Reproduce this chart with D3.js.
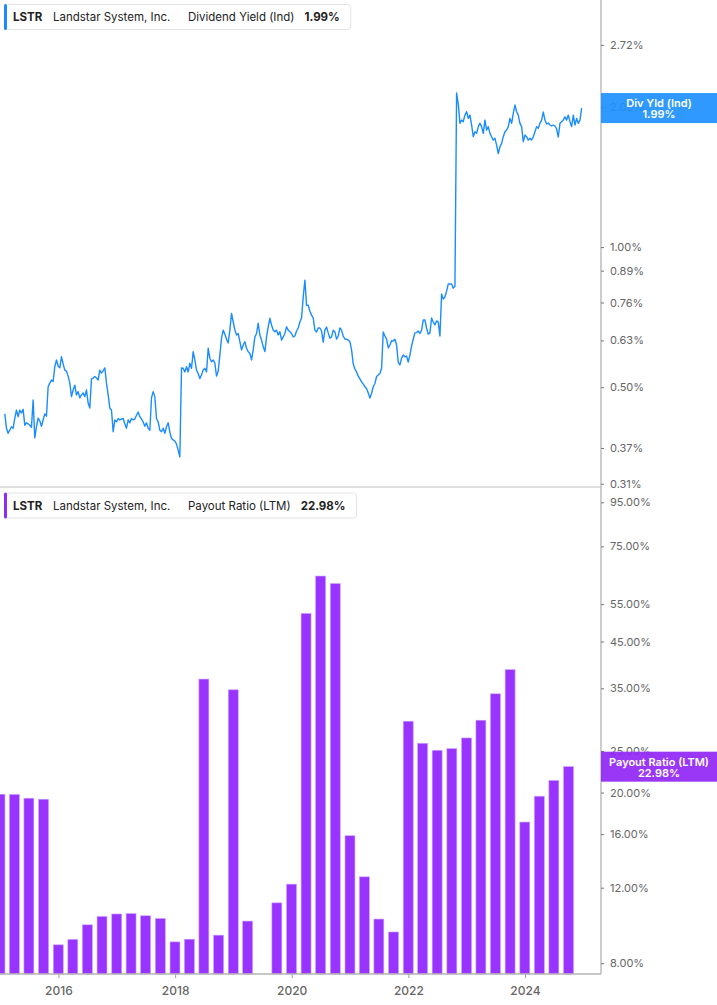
<!DOCTYPE html>
<html>
<head>
<meta charset="utf-8">
<script src="https://cdn.jsdelivr.net/npm/d3@7"></script>
<style>
body { margin: 0; background: #fff; }
text { font-family: Inter, "Noto Sans", sans-serif; }
</style>
</head>
<body>
<svg id="chart" width="717" height="1005"></svg>
<script>
var ticker = "LSTR";
var company = "Landstar System, Inc.";
var yieldName = "Dividend Yield (Ind)";
var yieldShort = "Div Yld (Ind)";
var yieldLast = 1.99;
var payoutName = "Payout Ratio (LTM)";
var payoutLast = 22.98;

// dividend yield (%), evenly spaced readings between these two dates
var yieldStart = "2015-01-30";
var yieldEnd = "2024-12-21";
var yieldValues = [
  0.438,0.408,0.398,0.404,0.411,0.408,0.429,0.446,0.432,0.446,
  0.440,0.448,0.414,0.419,0.417,0.414,0.410,0.469,0.389,0.411,
  0.429,0.423,0.412,0.425,0.438,0.433,0.501,0.510,0.518,0.514,
  0.553,0.572,0.555,0.550,0.581,0.561,0.544,0.541,0.528,0.510,
  0.477,0.493,0.505,0.481,0.489,0.474,0.481,0.486,0.477,0.493,
  0.462,0.451,0.521,0.523,0.527,0.523,0.518,0.544,0.536,0.542,
  0.550,0.510,0.481,0.451,0.446,0.401,0.425,0.421,0.428,0.425,
  0.427,0.428,0.417,0.408,0.425,0.419,0.428,0.425,0.427,0.435,
  0.442,0.432,0.427,0.421,0.412,0.419,0.408,0.404,0.474,0.489,
  0.477,0.428,0.421,0.404,0.401,0.408,0.398,0.411,0.419,0.400,
  0.388,0.385,0.383,0.377,0.366,0.354,
  0.550,0.549,0.539,0.553,0.539,0.563,0.549,0.596,0.572,0.544,
  0.535,0.522,0.531,0.544,0.549,0.539,0.606,0.577,0.567,0.572,
  0.563,0.528,0.541,0.586,0.637,0.663,0.650,0.634,0.622,0.663,
  0.720,0.691,0.663,0.647,0.652,0.626,0.601,0.616,0.626,0.606,
  0.596,0.591,0.572,0.601,0.641,0.652,0.686,0.647,0.631,0.611,
  0.596,0.641,0.674,0.703,0.680,0.663,0.658,0.663,0.647,0.658,
  0.631,0.641,0.652,0.674,0.663,0.658,0.652,0.641,0.644,0.660,
  0.670,0.690,0.704,0.781,0.849,0.750,0.750,0.728,0.714,0.704,
  0.663,0.657,0.670,0.670,0.660,0.625,0.663,0.673,0.654,0.637,
  0.641,0.663,0.657,0.634,0.644,0.670,0.663,0.644,0.634,0.634,
  0.631,0.626,0.601,0.561,0.547,0.539,0.528,0.521,0.513,0.508,
  0.501,0.496,0.486,0.474,0.485,0.501,0.509,0.527,0.531,0.535,
  0.549,0.657,0.644,0.634,0.607,0.616,0.629,0.628,0.634,0.616,
  0.566,0.558,0.577,0.586,0.581,0.583,0.566,0.586,0.613,0.634,
  0.654,0.655,0.660,0.652,0.663,0.697,0.697,0.670,0.650,0.654,
  0.704,0.690,0.680,0.694,0.690,0.644,0.793,0.773,0.781,0.804,
  0.833,0.833,0.833,0.816,0.824,
  2.144,2.030,1.845,1.875,1.860,1.922,1.954,1.891,1.922,1.830,
  1.727,1.770,1.756,1.815,1.845,1.815,1.756,1.875,1.785,1.815,
  1.756,1.727,1.698,1.713,1.657,1.589,1.643,1.671,1.727,1.770,
  1.785,1.815,1.891,1.845,1.938,2.020,1.954,1.922,1.845,1.815,
  1.684,1.741,1.727,1.698,1.713,1.698,1.727,1.770,1.815,1.800,
  1.845,1.875,1.951,1.875,1.839,1.848,1.830,1.821,1.830,1.821,
  1.794,1.724,1.845,1.860,1.875,1.906,1.875,1.922,1.860,1.815,
  1.922,1.830,1.891,1.845,1.875,1.99
];

// payout ratio (%), one bar per fiscal quarter end
var quarterEnds = [
  "2014-12-31","2015-03-31","2015-06-30","2015-09-30","2015-12-31",
  "2016-03-31","2016-06-30","2016-09-30","2016-12-31","2017-03-31",
  "2017-06-30","2017-09-30","2017-12-31","2018-03-31","2018-06-30",
  "2018-09-30","2018-12-31","2019-03-31","2019-06-30","2019-09-30",
  "2019-12-31","2020-03-31","2020-06-30","2020-09-30","2020-12-31",
  "2021-03-31","2021-06-30","2021-09-30","2021-12-31","2022-03-31",
  "2022-06-30","2022-09-30","2022-12-31","2023-03-31","2023-06-30",
  "2023-09-30","2023-12-31","2024-03-31","2024-06-30","2024-09-30"
];
var payoutValues = [
  19.82,19.79,19.40,19.29,8.83,9.09,9.83,10.28,10.42,10.44,
  10.32,10.17,8.97,9.10,36.78,9.30,34.72,10.03,null,11.06,
  12.23,52.30,63.95,61.40,15.86,12.72,10.14,9.46,29.33,26.05,
  25.09,25.31,26.81,29.49,33.98,38.68,17.07,19.61,21.34,22.98
];

var yieldTicks = [0.31, 0.37, 0.50, 0.63, 0.76, 0.89, 1.00, 2.00, 2.72];
var payoutTicks = [8, 12, 16, 20, 25, 35, 45, 55, 75, 95];
var yearTicks = ["2016-01-01", "2018-01-01", "2020-01-01", "2022-01-01", "2024-01-01"];

var parse = d3.timeParse("%Y-%m-%d");
var blue = "#1a8cff", purple = "#9933ff";
var plotRight = 601, topBottom = 487, barBase = 974;

var svg = d3.select("#chart");

var x = d3.scaleTime()
    .domain([parse("2014-12-31"), parse("2025-04-15")])
    .range([0, 600]);

var yTop = d3.scaleLog().domain([0.305, 3.397]).range([topBottom, 0]);
var yBot = d3.scaleLog().domain([7.55, 101.5]).range([barBase, 490]);

// ---- top panel: dividend yield line
var t0 = parse(yieldStart).getTime(), t1 = parse(yieldEnd).getTime();
var yieldData = yieldValues.map(function(v, i) {
  return {date: new Date(t0 + (t1 - t0) * i / (yieldValues.length - 1)), value: v};
});

svg.append("line")
  .attr("x1", 0).attr("x2", plotRight)
  .attr("y1", topBottom).attr("y2", topBottom)
  .attr("stroke", "#dedede").attr("stroke-width", 2);

var line = d3.line()
  .x(function(d) { return x(d.date); })
  .y(function(d) { return yTop(d.value); });

svg.append("path")
  .datum(yieldData)
  .attr("d", line)
  .attr("fill", "none")
  .attr("stroke", blue)
  .attr("stroke-width", 1.4)
  .attr("stroke-linejoin", "round");

// ---- bottom panel: payout bars
var payoutData = quarterEnds.map(function(q, i) {
  return {date: parse(q), value: payoutValues[i]};
}).filter(function(d) { return d.value != null; });

var barW = (x(parse("2015-12-31")) - x(parse("2014-12-31"))) / 4 * 0.68;

svg.append("g")
  .selectAll("rect")
  .data(payoutData)
  .enter()
  .append("rect")
  .attr("x", function(d) { return x(d.date) - barW / 2; })
  .attr("y", function(d) { return yBot(d.value); })
  .attr("width", barW)
  .attr("height", function(d) { return barBase - yBot(d.value); })
  .attr("fill", purple)
  .attr("stroke", "#c79cff")
  .attr("stroke-width", 0.6);

// x axis
var xAxis = svg.append("g")
  .attr("transform", "translate(0," + barBase + ")")
  .call(d3.axisBottom(x)
    .tickValues(yearTicks.map(parse))
    .tickSize(4)
    .tickPadding(8)
    .tickFormat(d3.timeFormat("%Y")));
xAxis.select(".domain").remove();
xAxis.selectAll("line").attr("stroke", "#999");
xAxis.selectAll("text").attr("fill", "#666").style("font-size", "12px").style("font-weight", 500);

svg.append("line")
  .attr("x1", 0).attr("x2", plotRight)
  .attr("y1", barBase).attr("y2", barBase)
  .attr("stroke", "#b5b5b5").attr("stroke-width", 1.5);

// ---- right axes
svg.append("line")
  .attr("x1", plotRight).attr("x2", plotRight)
  .attr("y1", 0).attr("y2", barBase)
  .attr("stroke", "#bdbdbd").attr("stroke-width", 1.5);

function styleAxis(g) {
  g.select(".domain").remove();
  g.selectAll("line").attr("stroke", "#777");
  g.selectAll("text").attr("fill", "#666").style("font-size", "11px");
}

svg.append("g")
  .attr("transform", "translate(" + plotRight + ",0)")
  .call(d3.axisRight(yTop).tickValues(yieldTicks).tickSize(3).tickPadding(6)
    .tickFormat(function(d) { return d.toFixed(2) + "%"; }))
  .call(styleAxis);

svg.append("g")
  .attr("transform", "translate(" + plotRight + ",0)")
  .call(d3.axisRight(yBot).tickValues(payoutTicks).tickSize(3).tickPadding(6)
    .tickFormat(function(d) { return d.toFixed(2) + "%"; }))
  .call(styleAxis);

// value tags on the axis
function valueTag(yPos, color, title, value) {
  var g = svg.append("g");
  g.append("rect")
    .attr("x", plotRight).attr("y", yPos - 15)
    .attr("width", 717 - plotRight).attr("height", 30)
    .attr("fill", color).attr("fill-opacity", 0.92);
  g.append("text")
    .attr("x", 659).attr("y", yPos - 5)
    .attr("text-anchor", "middle").attr("dy", "0.35em")
    .attr("fill", "#fff").style("font-size", "11px").style("font-weight", 600)
    .text(title);
  g.append("text")
    .attr("x", 659).attr("y", yPos + 6)
    .attr("text-anchor", "middle").attr("dy", "0.35em")
    .attr("fill", "#fff").style("font-size", "11px").style("font-weight", 600)
    .text(value);
}
valueTag(yTop(yieldLast), "#1e90ff", yieldShort, yieldLast.toFixed(2) + "%");
valueTag(yBot(payoutLast), "#9126f5", payoutName, payoutLast.toFixed(2) + "%");

// ---- legends
function legend(top, color, metric, value) {
  var g = svg.append("g");
  var box = g.append("rect")
    .attr("x", 4.5).attr("y", top + 0.5).attr("height", 25)
    .attr("rx", 3).attr("fill", "#fff").attr("stroke", "#e4e4e4");
  g.append("rect")
    .attr("x", 4).attr("y", top).attr("width", 3).attr("height", 26)
    .attr("rx", 1.5).attr("fill", color);
  var cy = top + 13;
  var parts = [
    {t: ticker, x: 13, w: 700},
    {t: company, x: 53, w: 400},
    {t: metric, x: 188, w: 400}
  ];
  parts.forEach(function(p) {
    g.append("text").attr("x", p.x).attr("y", cy).attr("dy", "0.35em")
      .attr("fill", "#222").style("font-size", "11.5px").style("font-weight", p.w)
      .text(p.t);
  });
  var m = g.selectAll("text").nodes()[2];
  var vx = 188 + m.getComputedTextLength() + 10;
  var vt = g.append("text").attr("x", vx).attr("y", cy).attr("dy", "0.35em")
    .attr("fill", "#222").style("font-size", "11.5px").style("font-weight", 700)
    .text(value);
  box.attr("width", vx + vt.node().getComputedTextLength() + 11 - 4.5);
}
legend(4, blue, yieldName, yieldLast.toFixed(2) + "%");
legend(492.5, "#8f2cf5", payoutName, payoutLast.toFixed(2) + "%");
</script>
</body>
</html>
